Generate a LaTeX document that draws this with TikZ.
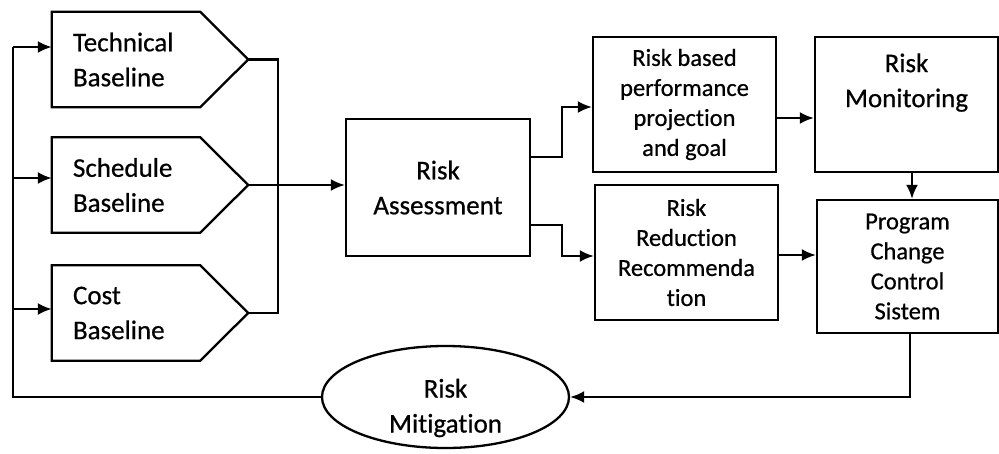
\documentclass[tikz,border=0pt]{standalone}
\usepackage{fontspec}
\setmainfont{Carlito}[FakeBold=0.6,Ligatures=NoCommon]
\usetikzlibrary{arrows.meta,shapes.geometric}
\begin{document}
\begin{tikzpicture}[x=1pt,y=-1pt,
  ln/.style={line width=2.3pt, line join=miter},
  arr/.style={ln, -{Latex[length=14pt,width=12pt]}},
  bigfont/.style={font=\fontsize{27pt}{35pt}\selectfont},
  smallfont/.style={font=\fontsize{24.5pt}{30pt}\selectfont},
  base/.style={rectangle, inner xsep=21pt, inner ysep=0pt, minimum width=196pt, minimum height=95pt, text width=154pt, align=left, bigfont},
  box/.style={rectangle, draw, ln, inner sep=0pt, align=center}
]
\useasboundingbox (0,0) rectangle (999,453);

% baselines (pentagons)
\node[base] (tb) at (150,59.5) {Technical\\Baseline};
\node[base] (sb) at (150,185) {Schedule\\Baseline};
\node[base] (cb) at (150,313) {Cost\\Baseline};
\foreach \n in {tb,sb,cb}{
  \draw[ln] (\n.north west) -- ([xshift=-48pt]\n.north east) -- (\n.east) -- ([xshift=-48pt]\n.south east) -- (\n.south west) -- cycle;
}

% boxes
\node[box, bigfont, minimum width=184pt, minimum height=137pt] (ra) at (438,187.5) {Risk\\Assessment};
\node[box, smallfont, minimum width=183pt, minimum height=135pt] (rb) at (684.5,104.5) {Risk based\\performance\\projection\\and goal};
\node[box, smallfont, minimum width=183pt, minimum height=135pt] (rr) at (686.5,252.5) {Risk\\Reduction\\Recommenda\\tion};
\node[box, minimum width=183pt, minimum height=135pt,
  label={[bigfont, align=center, anchor=north, yshift=-14pt]north:Risk\\Monitoring}] (rm) at (906.5,104.5) {};
\node[box, smallfont, minimum width=181pt, minimum height=133pt] (pc) at (907.5,266.5) {Program\\Change\\Control\\Sistem};
\node[ellipse, draw, ln, inner sep=0pt, minimum width=247pt, minimum height=102pt,
  label={[bigfont, align=center, yshift=-11pt]center:Risk\\Mitigation}] (mit) at (445.5,397) {};

% feedback loop on the left
\coordinate (lb) at (13,397);
\coordinate (lt) at (13,47);
\draw[ln] (mit.west) -- (lb) -- (lt);
\draw[arr] (lt) -- (tb.west |- 0,47);
\draw[arr] (13,178) -- (sb.west |- 0,178);
\draw[arr] (13,309) -- (cb.west |- 0,309);

% collector on the right of baselines
\coordinate (jt) at (278,59.5);
\coordinate (jb) at (278,313);
\draw[ln] (tb.east) -- (jt) -- (jb) -- (cb.east);
\draw[arr] (sb.east) -- (ra.west |- sb.east);

% from risk assessment
\draw[arr] (ra.east |- 0,157) -- (562,157) -- (562,107) -- (rb.west |- 0,107);
\draw[arr] (ra.east |- 0,225) -- (562,225) -- (562,256) -- (rr.west |- 0,256);

\draw[arr] (rb.east |- 0,118) -- (rm.west |- 0,118);
\draw[arr] (rr.east |- 0,255) -- (pc.west |- 0,255);
\draw[arr] (rm.south -| 912,0) -- (pc.north -| 912,0);
\draw[arr] (pc.south -| 910,0) -- (910,397) -- (mit.east);
\end{tikzpicture}
\end{document}
